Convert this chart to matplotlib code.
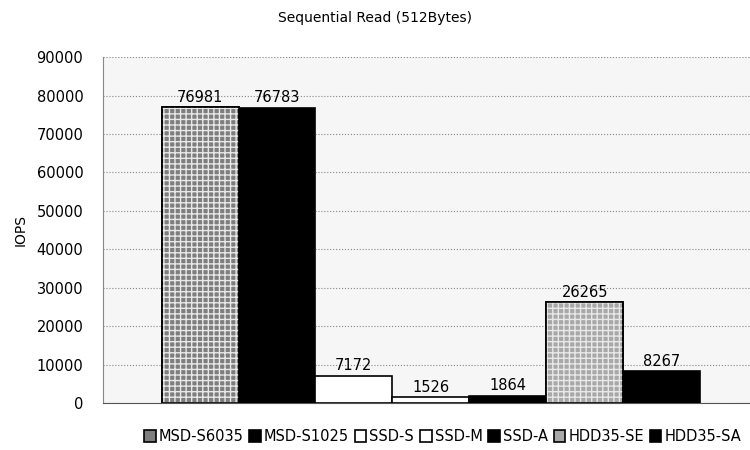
import numpy as np
import matplotlib.pyplot as plt

plt.rcParams['font.family'] = ['DejaVu Sans']

devices = ['MSD-S6035', 'MSD-S1025', 'SSD-S', 'SSD-M', 'SSD-A', 'HDD35-SE', 'HDD35-SA']
iops = [76981, 76783, 7172, 1526, 1864, 26265, 8267]
colors = ['#7e7e7e', '#000000', '#ffffff', '#ffffff', '#000000', '#a8a8a8', '#000000']
hatches = ['+++', None, None, None, None, '+++', None]

fig = plt.figure(figsize=(7.5, 4.5), dpi=100)
ax = fig.add_axes([0.137, 0.104, 0.863, 0.769])
ax.set_facecolor('#f6f6f6')

x = np.arange(len(devices))
for i in range(len(devices)):
    ax.bar(x[i], iops[i], width=1.0, color=colors[i], edgecolor='black',
           linewidth=1.2, label=devices[i], zorder=3)
    if hatches[i]:
        ax.bar(x[i], iops[i], width=1.0, color='none', edgecolor='#e8e8e8',
               hatch=hatches[i], linewidth=0, zorder=3.5)
        ax.bar(x[i], iops[i], width=1.0, color='none', edgecolor='black',
               linewidth=1.2, zorder=3.6)
    ax.text(x[i], iops[i] + 700, str(iops[i]), ha='center', va='bottom', fontsize=10.5)

ax.set_xlim(-1.266, 7.15)
ax.set_ylim(0, 90000)
ax.set_yticks(np.arange(0, 90001, 10000))
ax.set_xticks([])
ax.tick_params(axis='y', length=0, labelsize=10.5, pad=14)
ax.yaxis.grid(True, linestyle=':', color='#888888', linewidth=0.8, zorder=0)
for s in ['top', 'right']:
    ax.spines[s].set_visible(False)
ax.spines['left'].set_color('#888888')
ax.spines['bottom'].set_color('#555555')
ax.set_ylabel('IOPS', fontsize=10, labelpad=6)

fig.suptitle('Sequential Read (512Bytes)', fontsize=10, y=0.975)

handles, labels = ax.get_legend_handles_labels()
fig.legend(handles, labels, loc='center', bbox_to_anchor=(0.59, 0.03), ncol=7,
           frameon=False, fontsize=10.5, handlelength=0.8, handleheight=0.8,
           handletextpad=0.2, columnspacing=0.4, borderpad=0)

fig.savefig('out.png', dpi=100)
